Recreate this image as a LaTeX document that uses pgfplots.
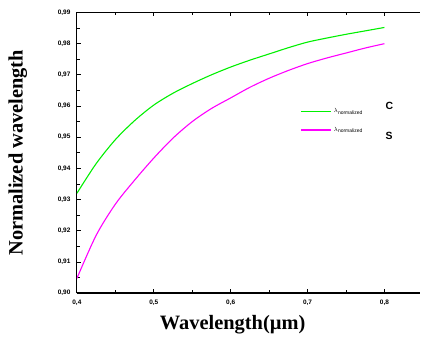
\documentclass[border=0pt]{standalone}
\usepackage{pgfplots}
\pgfplotsset{compat=1.18}
\usepackage{fontspec}
\setmainfont{Liberation Sans}
\newfontfamily\timesfont{Liberation Serif}
\definecolor{cgreen}{RGB}{0,240,0}
\definecolor{cmag}{RGB}{255,0,255}
\begin{document}
\begin{tikzpicture}[x=1bp,y=1bp]
\begin{axis}[
  scale only axis,
  width=344bp, height=281bp,
  at={(0bp,0bp)}, anchor=origin,
  xmin=0.4, xmax=0.8468,
  ymin=0.90, ymax=0.99,
  axis x line*=box, axis y line*=left,
  axis line style={line width=1.2pt},
  xtick={0.4,0.5,0.6,0.7,0.8},
  ytick={0.90,0.91,0.92,0.93,0.94,0.95,0.96,0.97,0.98,0.99},
  minor x tick num=1, minor y tick num=1,
  tick align=inside,
  major tick length=4bp, minor tick length=3bp,
  tick style={line width=0.8pt,black},
  xticklabel style={/pgf/number format/.cd,fixed,fixed zerofill,precision=1,use comma},
  yticklabel style={/pgf/number format/.cd,fixed,fixed zerofill,precision=2,use comma},
  /pgf/number format/assume math mode=true,
  ticklabel style={font=\fontsize{6.5}{7}\selectfont\bfseries},
  xticklabel shift=3bp, yticklabel shift=3bp,
  every axis y label/.style={at={(axis description cs:-0.172,0.5)},rotate=90,anchor=center},
  every axis x label/.style={at={(axis description cs:0.4535,-0.114)},anchor=center},
  ylabel={\timesfont\bfseries\fontsize{20.5}{22}\selectfont Normalized wavelength},
  xlabel={\timesfont\bfseries\fontsize{20.5}{22}\selectfont Wavelength(\textmu m)},
  legend style={draw=none,fill=none,at={(axis description cs:0.64,0.672)},anchor=north west,
    font=\fontsize{6}{7}\selectfont, row sep=9bp},
  legend cell align=left,
]
\addplot[cgreen, line width=1.1pt, smooth, forget plot] coordinates {
(0.400,0.9320) (0.425,0.9415) (0.450,0.9492) (0.475,0.9553) (0.500,0.9603)
(0.525,0.9641) (0.550,0.9672) (0.575,0.9700) (0.600,0.9725) (0.625,0.9747)
(0.650,0.9767) (0.675,0.9787) (0.700,0.9805) (0.725,0.9818) (0.750,0.9830)
(0.775,0.9841) (0.800,0.9852)};
\addplot[cmag, line width=1.1pt, smooth, forget plot] coordinates {
(0.400,0.9047) (0.425,0.9185) (0.450,0.9285) (0.475,0.9362) (0.500,0.9433)
(0.525,0.9497) (0.550,0.9550) (0.575,0.9592) (0.600,0.9626) (0.625,0.9660)
(0.650,0.9689) (0.675,0.9714) (0.700,0.9736) (0.725,0.9754) (0.750,0.9770)
(0.775,0.9786) (0.800,0.9800)};
\addlegendimage{legend image code/.code={\draw[cgreen,line width=1.8pt] (0bp,0bp) -- (30bp,0bp);}}
\addlegendentry{\makebox[52bp][l]{$\lambda_{\mathrm{normalized}}$}\smash{\raisebox{3bp}{\fontsize{10.5}{12}\selectfont\bfseries C}}}
\addlegendimage{legend image code/.code={\draw[cmag,line width=1.8pt] (0bp,0bp) -- (30bp,0bp);}}
\addlegendentry{\makebox[52bp][l]{$\lambda_{\mathrm{normalized}}$}\smash{\raisebox{-8bp}{\fontsize{10.5}{12}\selectfont\bfseries S}}}
\end{axis}
\path[use as bounding box] (-77bp,-52bp) rectangle (344bp,293.5bp);
\end{tikzpicture}
\end{document}
